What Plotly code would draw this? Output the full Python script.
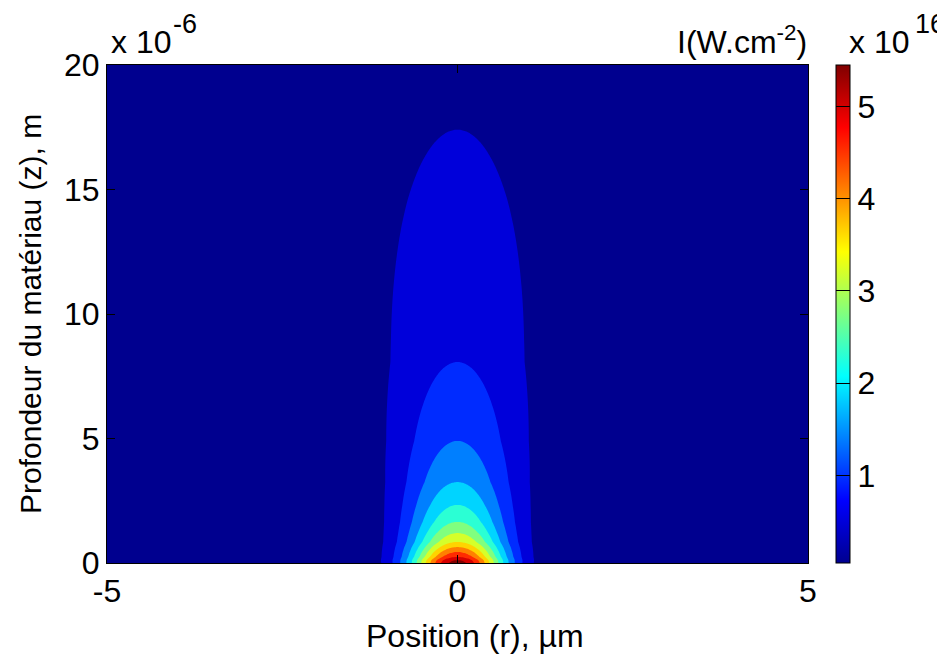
import numpy as np
import plotly.graph_objects as go

# ---- values ----
# on-axis intensity (units of 1e16 W/cm^2) versus depth (µm)
depth_um = [0, 0.12, 0.24, 0.44, 0.64, 0.84, 1.2, 1.65, 2.33, 3.25, 4.9, 8.07, 17.4, 20]
axis_intensity_e16 = [5.45, 5.28, 4.84, 4.40, 3.96, 3.52, 3.08, 2.64, 2.20, 1.76, 1.32, 0.88, 0.44, 0.36]
# beam radius (1/e^2, µm) versus depth (µm)
radius_depth_um = [0, 4, 9, 14.6, 20]
beam_radius_um = [0.97, 1.3, 1.7, 2.2, 2.6]
# contour levels (1e16 W/cm^2)
level_start, level_end, level_step = 0.44, 5.28, 0.44
cbar_min, cbar_max = 0.05, 5.45
x_ticks = [-5, 0, 5]
x_tick_labels = ['-5', '0', '5']
y_ticks = [0, 5, 10, 15, 20]
cbar_ticks = [1, 2, 3, 4, 5]

# ---- build the field ----
r = np.linspace(-5, 5, 401)
z = np.linspace(0, 20, 401)
I_axis = np.exp(np.interp(z, depth_um, np.log(axis_intensity_e16)))
w = np.interp(z, radius_depth_um, beam_radius_um)
field = I_axis[:, None] * np.exp(-2 * r[None, :] ** 2 / w[:, None] ** 2)

jet = [[0.0, 'rgb(0,0,143)'], [0.125, 'rgb(0,0,255)'], [0.375, 'rgb(0,255,255)'],
       [0.625, 'rgb(255,255,0)'], [0.875, 'rgb(255,0,0)'], [1.0, 'rgb(128,0,0)']]

FONT = 'Liberation Sans, Arial, sans-serif'
FS = 32
# page body has an 8 px margin; figure coordinates are screen minus 8
OFF = 8
L, T, R, B = 107 - OFF, 65 - OFF, 808 - OFF, 563 - OFF
W, H = 945 - OFF, 663 - OFF


def px(X, Y):
    return (X - OFF - L) / (R - L), (B - (Y - OFF)) / (B - T)


fig = go.Figure()
fig.add_trace(go.Contour(
    x=r, y=z, z=field, colorscale=jet, showscale=False,
    contours=dict(start=level_start, end=level_end, size=level_step,
                  coloring='fill', showlines=False),
    line=dict(width=0), hoverinfo='skip'))
cbx, _ = px(836, 0)
fig.add_trace(go.Scatter(
    x=[0], y=[40], mode='markers', showlegend=False, hoverinfo='skip',
    marker=dict(color=[cbar_min], colorscale=jet, cmin=cbar_min, cmax=cbar_max,
                showscale=True, opacity=0,
                colorbar=dict(thickness=14, len=1.0, lenmode='fraction', y=0.5,
                              yanchor='middle', x=cbx, xanchor='left', xpad=0, ypad=0,
                              outlinecolor='black', outlinewidth=1,
                              tickvals=cbar_ticks, ticks='inside', ticklen=14,
                              tickcolor='black', tickwidth=1,
                              tickfont=dict(family=FONT, size=FS, color='black')))))

fig.update_layout(
    width=W, height=H, plot_bgcolor='white', paper_bgcolor='white',
    margin=dict(l=L, r=W - R, t=T, b=H - B),
    font=dict(family=FONT, size=FS, color='black'),
    xaxis=dict(range=[-5, 5], tickvals=x_ticks, ticktext=x_tick_labels,
               ticks='inside', ticklen=8,
               showline=True, mirror='ticks', linecolor='black', linewidth=1,
               tickcolor='black', showgrid=False, zeroline=False),
    yaxis=dict(range=[0, 20], tickvals=y_ticks, ticks='inside', ticklen=8,
               showline=True, mirror='ticks', linecolor='black', linewidth=1,
               tickcolor='black', showgrid=False, zeroline=False),
)

ann = [
    dict(text='x 10', X=110, Y=42, xa='left', fs=FS),
    dict(text='-6', X=172, Y=24, xa='left', fs=27),
    dict(text='I(W.cm<sup>-2</sup>)', X=808, Y=40, xa='right', fs=FS),
    dict(text='x 10', X=848, Y=42, xa='left', fs=FS),
    dict(text='16', X=914, Y=24, xa='left', fs=27),
]
for a in ann:
    ax, ay = px(a['X'], a['Y'])
    fig.add_annotation(text=a['text'], xref='paper', yref='paper', x=ax, y=ay,
                       xanchor=a['xa'], yanchor='middle', showarrow=False,
                       borderpad=0,
                       font=dict(family=FONT, size=a['fs'], color='black'))

# axis titles
ax, ay = px(475, 636)
fig.add_annotation(text='Position (r), µm', xref='paper', yref='paper', x=ax, y=ay,
                   xanchor='center', yanchor='middle', showarrow=False,
                   font=dict(family=FONT, size=FS, color='black'))
ax, ay = px(30, 314)
fig.add_annotation(text='Profondeur du matériau (z), m', xref='paper', yref='paper',
                   x=ax, y=ay, xanchor='center', yanchor='middle', textangle=-90,
                   showarrow=False, font=dict(family=FONT, size=FS - 2, color='black'))

fig.write_html('out.html')
